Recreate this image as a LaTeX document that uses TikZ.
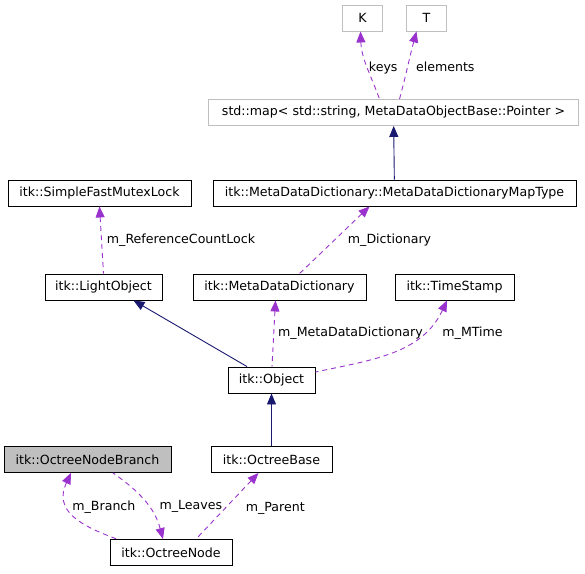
\documentclass[tikz,border=0pt]{standalone}
\usepackage{fontspec}
\setmainfont{DejaVu Sans}
\usepackage{xcolor}
\usepackage{tikz}
\usetikzlibrary{arrows.meta}

\definecolor{usecol}{HTML}{9A32CD}
\definecolor{inhcol}{HTML}{191970}
\definecolor{extcol}{HTML}{BFBFBF}

\begin{document}
\begin{tikzpicture}[
    x=1pt, y=-1pt,
    font=\fontsize{12.6}{15}\selectfont,
    cls/.style={rectangle, draw=black, fill=white, line width=0.9pt,
                minimum height=26pt, inner xsep=10pt, inner ysep=0pt},
    ext/.style={cls, draw=extcol},
    cur/.style={cls, fill=extcol},
    uses/.style={{Triangle[length=11pt,width=9pt]}-, draw=usecol, line width=0.9pt,
                 dash pattern=on 5pt off 4pt},
    inherit/.style={{Triangle[length=11pt,width=9pt]}-, draw=inhcol, line width=0.9pt},
    lbl/.style={anchor=west, inner sep=0pt, xshift=5pt}
]
\useasboundingbox (0,0) rectangle (585,573);

% Row 0: template arguments
\node[ext, minimum width=40pt] (keyarg) at (362.5,18) {K};
\node[ext, minimum width=40pt] (valarg) at (426.5,18) {T};

% Row 1: std::map
\node[ext, minimum width=370pt] (stdmap) at (393.5,112.5) {std::map< std::string, MetaDataObjectBase::Pointer >};

% Row 2
\node[cls, minimum width=183pt] (mutexlock) at (99.5,193) {itk::SimpleFastMutexLock};
\node[cls, minimum width=363pt] (maptype) at (394.5,193) {itk::MetaDataDictionary::MetaDataDictionaryMapType};

% Row 3
\node[cls, minimum width=117pt] (lightobj) at (103.5,287) {itk::LightObject};
\node[cls, minimum width=173pt] (metadict) at (279.5,287) {itk::MetaDataDictionary};
\node[cls, minimum width=119pt] (timestamp) at (454.5,287) {itk::TimeStamp};

% Row 4
\node[cls, minimum width=87pt] (object) at (271.5,380) {itk::Object};

% Row 5
\node[cur, minimum width=167pt] (branch) at (87.5,459.5) {itk::OctreeNodeBranch};
\node[cls, minimum width=121pt] (octbase) at (271.5,459.5) {itk::OctreeBase};

% Row 6
\node[cls, minimum width=122pt] (octnode) at (171,552.5) {itk::OctreeNode};

% Template arguments of the map
\draw[uses] ([xshift=-2pt]keyarg.south) to[out=-88, in=110]
    node[lbl, pos=0.53, xshift=-4pt] {keys} ([xshift=-14pt]stdmap.north);
\draw[uses] ([xshift=-10pt]valarg.south) to[out=-105, in=75]
    node[lbl, pos=0.53, xshift=3pt] {elements} ([xshift=6pt]stdmap.north);

% Inheritance
\draw[inherit] (stdmap) -- (maptype);
\draw[inherit] ([xshift=30pt]lightobj.south) -- ([xshift=-24.5pt]object.north);
\draw[inherit] (object) -- (octbase);

% Members
\draw[uses] (mutexlock.south) -- node[lbl, pos=0.5] {m\_ReferenceCountLock} (lightobj.north);
\draw[uses] ([xshift=-25pt]maptype.south) -- node[lbl, pos=0.5, xshift=8pt] {m\_Dictionary}
    ([xshift=20pt]metadict.north);
\draw[uses] ([xshift=-4pt]metadict.south) -- node[lbl, pos=0.5, xshift=-1pt] {m\_MetaDataDictionary}
    ([xshift=0.5pt]object.north);
\draw[uses] ([xshift=-7.5pt]timestamp.south) to[out=-115, in=12]
    node[lbl, pos=0.26, xshift=14pt] {m\_MTime} ([yshift=8pt]object.east);

% Octree members
\draw[uses] ([xshift=-13pt]octbase.south) -- node[lbl, pos=0.53, xshift=15pt] {m\_Parent}
    ([xshift=25pt]octnode.north);
\draw[uses] ([xshift=-16.5pt]branch.south) to[out=-115, in=160, looseness=1.3]
    node[lbl, pos=0.38, xshift=-1pt] {m\_Branch} ([xshift=-54pt]octnode.north);
\draw[uses] ([xshift=-8pt]octnode.north) to[out=105, in=-35]
    node[lbl, pos=0.42, xshift=5.5pt] {m\_Leaves} ([xshift=25.5pt]branch.south);

\end{tikzpicture}
\end{document}
